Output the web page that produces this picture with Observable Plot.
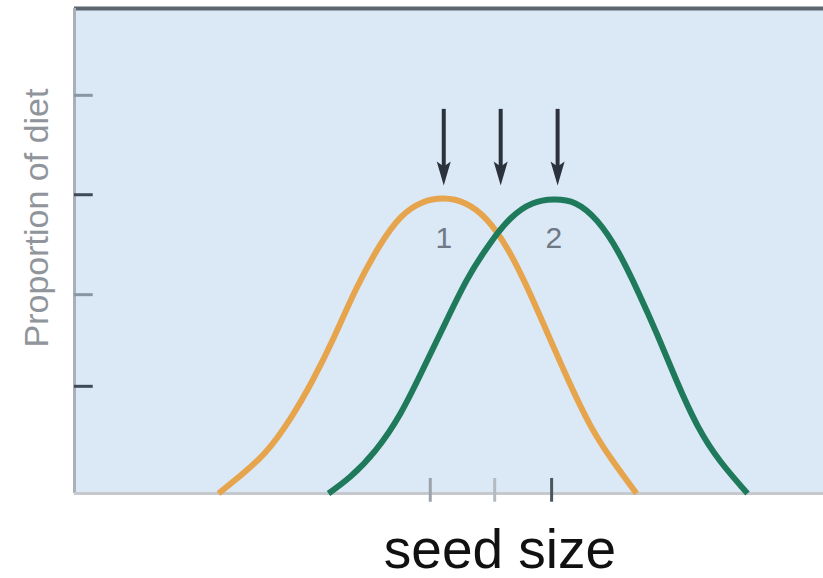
<!DOCTYPE html>
<html>
<head>
<meta charset="utf-8">
<script src="https://cdn.jsdelivr.net/npm/d3@7"></script>
<script src="https://cdn.jsdelivr.net/npm/@observablehq/plot@0.6"></script>
<style>
  html, body { margin: 0; padding: 0; background: #ffffff; }
  #chart svg { display: block; }
</style>
</head>
<body>
<div id="chart"></div>
<script>
// Seed size (0–100, arbitrary) and proportion of diet (0–1, arbitrary)
const species1Size = [19.23, 22.16, 25.50, 28.84, 31.78, 34.58, 37.52, 40.59, 43.52, 46.46, 49.27, 52.20, 55.14, 57.94, 60.61, 63.28, 65.95, 68.89, 71.83, 75.03];
const species1Diet = [0.0, 0.037, 0.085, 0.155, 0.233, 0.320, 0.419, 0.507, 0.569, 0.600, 0.608, 0.598, 0.563, 0.501, 0.419, 0.326, 0.233, 0.140, 0.068, 0.0];
const species2Size = [33.91, 36.85, 40.19, 43.52, 46.46, 49.40, 52.34, 55.27, 58.21, 61.15, 63.95, 66.89, 69.83, 72.63, 75.30, 77.84, 80.37, 83.18, 86.25, 89.85];
const species2Diet = [0.0, 0.035, 0.089, 0.165, 0.254, 0.348, 0.439, 0.511, 0.567, 0.598, 0.606, 0.598, 0.561, 0.497, 0.414, 0.326, 0.233, 0.140, 0.066, 0.0];

const arrowX = [49.3, 56.9, 64.5];       // the three arrows above the peaks
const arrowTop = 0.792, arrowTip = 0.635;
const xTickValues = [47.5, 56.1, 63.7];  // the three marks on the seed-size axis
const yTickValues = [0.221, 0.410, 0.616, 0.821];
const peakLabels = ["1", "2"];
const peakLabelX = [49.3, 64.0];
const peakLabelY = 0.526;

const xLabel = "seed size";
const yLabel = "Proportion of diet";

const s1 = species1Size.map((x, i) => ({x, y: species1Diet[i]}));
const s2 = species2Size.map((x, i) => ({x, y: species2Diet[i]}));
const arrows = arrowX.map(x => ({x}));
const peaks = peakLabels.map((t, i) => ({t, x: peakLabelX[i]}));

// narrow filled dart arrowhead, tip at the origin, pointing down
const dart = {
  draw(context, size) {
    const s = Math.sqrt(size / Math.PI) / 10;
    context.moveTo(0, 0);
    context.lineTo(-7 * s, -24 * s);
    context.lineTo(0, -19 * s);
    context.lineTo(7 * s, -24 * s);
    context.closePath();
  }
};

const chart = Plot.plot({
  width: 823,
  height: 578,
  marginLeft: 74,
  marginRight: 0,
  marginTop: 8,
  marginBottom: 85,
  style: {fontFamily: "'Liberation Sans', Arial, sans-serif", background: "#ffffff"},
  x: {domain: [0, 100], axis: null},
  y: {domain: [0, 1], axis: null},
  color: {type: "identity"},
  marks: [
    Plot.frame({fill: "#dbe8f6", stroke: "none"}),
    // borders
    Plot.ruleY([1], {stroke: "#5d666e", strokeWidth: 4}),
    Plot.ruleX([0], {stroke: "#a9b1b8", strokeWidth: 3}),
    Plot.ruleY([0], {stroke: "#c5c9cd", strokeWidth: 3}),
    // y ticks (inward)
    Plot.ruleY(yTickValues, {x1: 0, x2: 2.5, stroke: (d, i) => i % 2 ? "#8896a2" : "#3f4a55", strokeWidth: 3}),
    // x ticks crossing the axis
    Plot.ruleX(xTickValues, {y1: -0.018, y2: 0.031, stroke: (d, i) => ["#9aa3ab", "#b3bac0", "#4b555e"][i], strokeWidth: 3, clip: false}),
    // curves
    Plot.line(s1, {x: "x", y: "y", curve: "natural", stroke: "#e6a54c", strokeWidth: 6, strokeLinecap: "butt"}),
    Plot.line(s2, {x: "x", y: "y", curve: "natural", stroke: "#1f7a5b", strokeWidth: 6, strokeLinecap: "butt"}),
    // arrows
    Plot.ruleX(arrows, {x: "x", y1: arrowTop, y2: arrowTip + 0.035, stroke: "#2b323b", strokeWidth: 4}),
    Plot.dot(arrows, {x: "x", y: () => arrowTip, symbol: dart, r: 10, fill: "#2b323b", stroke: "none"}),
    // peak labels
    Plot.text(peaks, {x: "x", y: () => peakLabelY, text: "t", fontSize: 30, fill: "#6f7985"}),
    // axis titles
    Plot.text([xLabel], {frameAnchor: "bottom", dx: 51, dy: 74, lineAnchor: "bottom", fontSize: 55, fill: "#111111"}),
    Plot.text([yLabel], {frameAnchor: "left", textAnchor: "middle", dx: -37, dy: -33, rotate: -90, fontSize: 34, fill: "#90959b"})
  ]
});

document.getElementById("chart").appendChild(chart);
</script>
</body>
</html>
